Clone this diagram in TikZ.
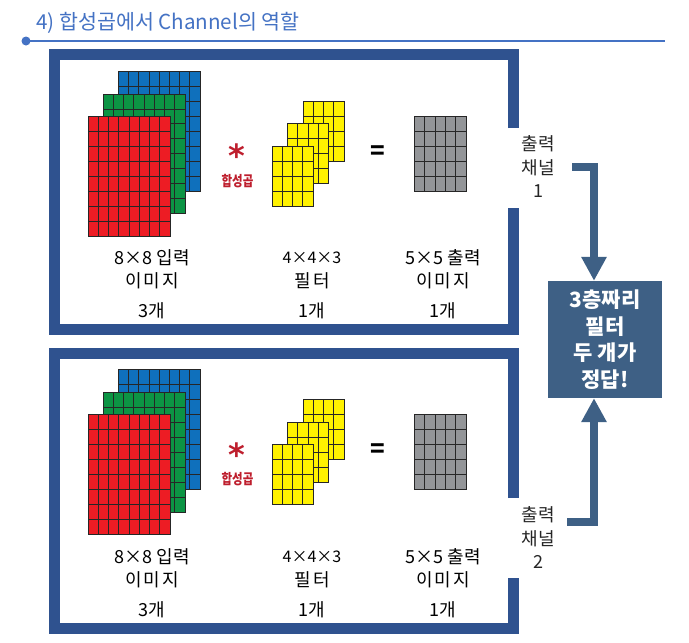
\documentclass[tikz,border=0pt]{standalone}
\usepackage{fontspec}
\setmainfont{Noto Sans CJK KR}
\newfontfamily\markfont{DejaVu Sans}
\usetikzlibrary{arrows.meta}
\definecolor{framecol}{HTML}{2F528F}
\definecolor{flowcol}{HTML}{3E6085}
\definecolor{titlecol}{HTML}{4472C4}
\definecolor{redcol}{HTML}{ED1C24}
\definecolor{greencol}{HTML}{0C9444}
\definecolor{bluecol}{HTML}{0F70BC}
\definecolor{yellowcol}{HTML}{FFF200}
\definecolor{greycol}{HTML}{939598}
\definecolor{markcol}{HTML}{BE1E2D}
% block of cells: x, y, width, height, cols, rows, colour
\newcommand{\cellblock}[7]{
    \pgfmathsetmacro{\cellw}{#3/#5}
    \pgfmathsetmacro{\cellh}{#4/#6}
    \begin{scope}[shift={(#1,#2)},x=\cellw pt,y=\cellh pt]
        \fill[#7] (0,0) rectangle (#5,-#6);
        \draw[gridline] (0,0) rectangle (#5,-#6);
        \foreach \cc in {1,...,#5} \draw[gridline] (\cc,0) -- (\cc,-#6);
        \foreach \rr in {1,...,#6} \draw[gridline] (0,-\rr) -- (#5,-\rr);
    \end{scope}
}
\begin{document}
\begin{tikzpicture}[x=1pt,y=-1pt,
            gridline/.style = {line width=.8pt,draw=black!85},
            boxframe/.style = {draw=framecol,line width=11pt},
            flow/.style = {draw=flowcol,line width=8pt,
                -{Triangle[length=24pt,width=24pt,fill=flowcol]}},
            lbl/.style = {inner sep=0pt,align=center,font=\fontsize{18}{18}\selectfont},
            widelbl/.style = {lbl,font=\fontsize{18}{18}\selectfont\addfontfeatures{LetterSpace=12}},
            chan/.style = {inner sep=0pt,align=center,font=\fontsize{18}{23.5}\selectfont,text=black!85},
            answerbox/.style = {fill=flowcol,text=white,align=center,inner sep=0pt,
                font=\fontsize{21}{26.5}\selectfont\bfseries}]
            \useasboundingbox (0,0) rectangle (689,643);
            \fill[white] (0,0) rectangle (689,643);
            % heading
            \node[anchor=west,inner sep=0pt,text=titlecol,font=\fontsize{20.6}{20.6}\selectfont]
                (heading) at (36,23) {4) 합성곱에서 Channel의 역할};
            \coordinate (rulebegin) at (26,41);
            \coordinate (ruleend) at (665,41);
            \draw[titlecol,line width=1.2pt] (rulebegin) -- (ruleend);
            \fill[titlecol] (rulebegin) circle (4.5);
            % frames
            \draw[boxframe] (513.5,128) |- (54.5,54.5) |- (513.5,329.5) -- (513.5,208);
            \draw[boxframe] (513.5,498) |- (54.5,353.5) |- (513.5,628) -- (513.5,578);
            % both panels
            \foreach \yoff/\pn in {0/a,298.5/b}{
                \cellblock{118.5}{71+\yoff}{81.5}{120}{8}{8}{bluecol}
                \cellblock{103}{94+\yoff}{82}{119.5}{8}{8}{greencol}
                \cellblock{88}{116+\yoff}{82}{120}{8}{8}{redcol}
                \cellblock{303}{101+\yoff}{41}{60}{4}{4}{yellowcol}
                \cellblock{287.5}{123.5+\yoff}{41}{60}{4}{4}{yellowcol}
                \cellblock{272}{146+\yoff}{41}{60}{4}{4}{yellowcol}
                \cellblock{414.5}{116+\yoff}{51.5}{75}{5}{5}{greycol}
                \node[text=markcol,font=\fontsize{32}{32}\markfont\bfseries,inner sep=0pt]
                    (star\pn) at (237,156+\yoff) {*};
                \node[text=markcol,yscale=1.25,font=\fontsize{11.5}{11.5}\selectfont\bfseries,inner sep=0pt]
                    (conv\pn) at (237.5,181+\yoff) {합성곱};
                \node[font=\fontsize{24}{24}\selectfont\bfseries,inner sep=0pt]
                    (equal\pn) at (377.5,152.5+\yoff) {=};
                \node[lbl] (inname\pn) at (152,258+\yoff) {8×8 입력};
                \node[widelbl] (inkind\pn) at (152,281+\yoff) {이미지};
                \node[lbl] (incount\pn) at (152,311+\yoff) {3개};
                \node[lbl,font=\fontsize{16}{16}\selectfont] (ftname\pn) at (312,258+\yoff) {4×4×3};
                \node[widelbl] (ftkind\pn) at (312,281+\yoff) {필터};
                \node[lbl] (ftcount\pn) at (312,311+\yoff) {1개};
                \node[lbl] (outname\pn) at (443,258+\yoff) {5×5 출력};
                \node[widelbl] (outkind\pn) at (443,281+\yoff) {이미지};
                \node[lbl] (outcount\pn) at (443,311+\yoff) {1개};
            }
            % channels and answer
            \node[chan,minimum width=68pt] (chan1) at (538,167) {출력\\채널\\1};
            \node[chan,minimum width=58pt] (chan2) at (538,538) {출력\\채널\\2};
            \node[answerbox,minimum width=114pt,minimum height=117pt] (answer) at (605,339.5)
                {3층짜리\\필터\\두 개가\\정답!};
            \draw[flow] (chan1.east) -| ([xshift=-11pt]answer.north);
            \draw[flow] ([yshift=16pt]chan2.east) -| ([xshift=-11pt]answer.south);
        \end{tikzpicture}
\end{document}
